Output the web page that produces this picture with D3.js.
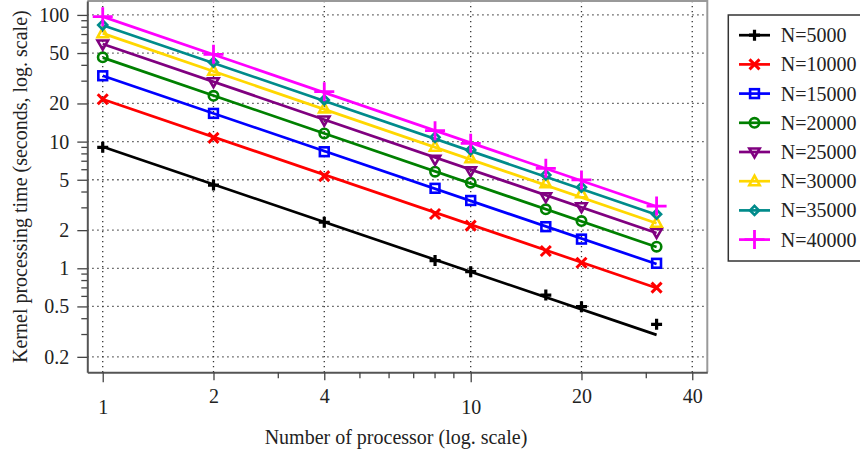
<!DOCTYPE html>
<html>
<head>
<meta charset="utf-8">
<script src="https://cdn.jsdelivr.net/npm/d3@7"></script>
<style>
  body { margin: 0; background: #fff; }
  text { font-family: "Liberation Serif", "DejaVu Serif", serif; fill: #222; }
</style>
</head>
<body>
<div id="chart"></div>
<script>
/*
------------------------------
DATA
------------------------------
*/
let processors = [1, 2, 4, 8, 10, 16, 20, 32];

let seriesNames = ["N=5000", "N=10000", "N=15000", "N=20000", "N=25000", "N=30000", "N=35000", "N=40000"];

// measured kernel times (seconds), one array per N
let t5000  = [9.02, 4.54, 2.31, 1.15, 0.94, 0.615, 0.498, 0.361];
let t10000 = [21.6, 10.7, 5.34, 2.68, 2.17, 1.37, 1.107, 0.703];
let t15000 = [33.1, 16.7, 8.32, 4.28, 3.43, 2.13, 1.70, 1.095];
let t20000 = [46.3, 23.0, 11.6, 5.79, 4.74, 2.92, 2.36, 1.48];
let t25000 = [58.9, 29.7, 14.8, 7.25, 5.89, 3.67, 3.06, 1.92];
let t30000 = [71.6, 36.3, 18.3, 9.12, 7.38, 4.69, 3.91, 2.29];
let t35000 = [83.2, 42.3, 21.3, 10.8, 8.58, 5.45, 4.36, 2.67];
let t40000 = [96.8, 48.9, 24.8, 12.2, 9.70, 6.15, 4.98, 3.10];

// fitted line end points (value at p=1 and at p=32)
let fitStart = [9.1, 21.6, 33.1, 46.0, 59.0, 71.5, 83.0, 97.0];
let fitEnd   = [0.298, 0.70, 1.08, 1.47, 1.90, 2.27, 2.65, 3.07];

let yTicks = [0.2, 0.5, 1, 2, 5, 10, 20, 50, 100];
let yMinor = [0.3, 0.4, 0.6, 0.7, 0.8, 0.9, 3, 4, 6, 7, 8, 9, 30, 40, 60, 70, 80, 90];
let xTicks = [1, 2, 4, 10, 20, 40];
let xMinor = [3, 5, 6, 7, 8, 9, 30];

let colors = ["#000000", "#ff0000", "#0000ff", "#008000", "#800080", "#ffd700", "#008b8b", "#ff00ff"];
let markers = ["plus", "cross", "square", "circle", "tridown", "triup", "diamond", "bigplus"];

let times = [t5000, t10000, t15000, t20000, t25000, t30000, t35000, t40000];

/*
------------------------------
SETUP
------------------------------
*/
let width = 860, height = 459;
let plot = {left: 87.3, right: 707.3, top: 1, bottom: 372.3};
let fontSize = 20;

let svg = d3.select("#chart").append("svg")
    .attr("width", width)
    .attr("height", height);

let xScale = d3.scaleLog().domain([0.908, 43.95]).range([plot.left, plot.right]);
let yScale = d3.scaleLog().domain([0.151, 128.8]).range([plot.bottom, plot.top]);

// grid
let grid = svg.append("g");
grid.selectAll(".hgrid").data(yTicks).enter().append("line")
    .attr("x1", plot.left).attr("x2", plot.right)
    .attr("y1", d => yScale(d)).attr("y2", d => yScale(d))
    .attr("stroke", "#333").attr("stroke-width", 1.3)
    .attr("stroke-dasharray", "1.3,3.7");
grid.selectAll(".vgrid").data(xTicks).enter().append("line")
    .attr("y1", plot.top).attr("y2", plot.bottom)
    .attr("x1", d => xScale(d)).attr("x2", d => xScale(d))
    .attr("stroke", "#333").attr("stroke-width", 1.3)
    .attr("stroke-dasharray", "1.3,3.7");

// frame (top & right lighter)
svg.append("path")
    .attr("d", `M${plot.left},${plot.top}H${plot.right}V${plot.bottom}`)
    .attr("fill", "none").attr("stroke", "#999").attr("stroke-width", 2);

// axes
let xAxis = d3.axisBottom(xScale).tickValues(xTicks).tickSize(8).tickSizeOuter(0).tickFormat(d3.format("d"));
let gx = svg.append("g").attr("transform", `translate(0,${plot.bottom})`).call(xAxis);
gx.select(".domain").attr("stroke", "#555").attr("stroke-width", 2);
gx.selectAll(".tick line").attr("stroke", "#444").attr("stroke-width", 1.3)
    .attr("y2", d => (d === 1 || d === 10) ? 10 : 8);
gx.selectAll(".tick text")
    .attr("font-size", fontSize).attr("font-family", "Liberation Serif")
    .attr("fill", "#222")
    .attr("dy", null)
    .attr("y", d => (d === 1 || d === 10) ? 42 : 31);
gx.selectAll(".minor").data(xMinor).enter().append("line")
    .attr("x1", d => xScale(d)).attr("x2", d => xScale(d))
    .attr("y1", 0).attr("y2", 6)
    .attr("stroke", "#444").attr("stroke-width", 1.3);

let yAxis = d3.axisLeft(yScale).tickValues(yTicks).tickSize(10).tickSizeOuter(0).tickFormat(d3.format("~g"));
let gy = svg.append("g").attr("transform", `translate(${plot.left},0)`).call(yAxis);
gy.select(".domain").attr("stroke", "#555").attr("stroke-width", 2);
gy.selectAll(".tick line").attr("stroke", "#444").attr("stroke-width", 1.3);
gy.selectAll(".tick text")
    .attr("font-size", fontSize).attr("font-family", "Liberation Serif")
    .attr("fill", "#222").attr("x", -18);
gy.selectAll(".minor").data(yMinor).enter().append("line")
    .attr("y1", d => yScale(d)).attr("y2", d => yScale(d))
    .attr("x1", 0).attr("x2", -6)
    .attr("stroke", "#444").attr("stroke-width", 1.3);

// axis titles
svg.append("text")
    .attr("x", 396).attr("y", 444)
    .attr("text-anchor", "middle").attr("font-size", fontSize)
    .text("Number of processor (log. scale)");
svg.append("text")
    .attr("transform", `translate(27,${(plot.top + plot.bottom) / 2}) rotate(-90)`)
    .attr("text-anchor", "middle").attr("font-size", fontSize)
    .text("Kernel processing time (seconds, log. scale)");

/*
------------------------------
METHOD: draw a marker of a given type
------------------------------
*/
function drawMarker(g, type, color, x, y) {
    let m = g.append("g").attr("transform", `translate(${x},${y})`);
    let sw = 2.6;
    if (type === "plus") {
        m.append("path").attr("d", "M-5.5,0H5.5M0,-5.5V5.5")
            .attr("stroke", color).attr("stroke-width", 3.2).attr("fill", "none");
    } else if (type === "bigplus") {
        m.append("path").attr("d", "M-10,0H10M0,-9.5V9.5")
            .attr("stroke", color).attr("stroke-width", 2.8).attr("fill", "none");
    } else if (type === "cross") {
        m.append("path").attr("d", "M-5,-5L5,5M-5,5L5,-5")
            .attr("stroke", color).attr("stroke-width", 3).attr("fill", "none");
    } else if (type === "square") {
        m.append("rect").attr("x", -4.4).attr("y", -4.4).attr("width", 8.8).attr("height", 8.8)
            .attr("stroke", color).attr("stroke-width", sw).attr("fill", "none");
    } else if (type === "circle") {
        m.append("circle").attr("r", 4.7)
            .attr("stroke", color).attr("stroke-width", sw).attr("fill", "none");
    } else if (type === "tridown") {
        m.append("path").attr("d", "M-5.2,-3.5H5.2L0,5.5Z")
            .attr("stroke", color).attr("stroke-width", sw).attr("fill", "none").attr("stroke-linejoin", "miter");
    } else if (type === "triup") {
        m.append("path").attr("d", "M-5.2,4H5.2L0,-5.5Z")
            .attr("stroke", color).attr("stroke-width", sw).attr("fill", "none").attr("stroke-linejoin", "miter");
    } else if (type === "diamond") {
        m.append("path").attr("d", "M0,-4.5L4.5,0L0,4.5L-4.5,0Z")
            .attr("stroke", color).attr("stroke-width", sw).attr("fill", "none");
    }
}

/*
------------------------------
METHOD: series (fit line + measured markers)
------------------------------
*/
let line = d3.line().x(d => xScale(d[0])).y(d => yScale(d[1]));
let lastP = processors[processors.length - 1];

times.forEach(function (vals, i) {
    let g = svg.append("g").attr("class", "series");
    g.append("path")
        .attr("d", line([[processors[0], fitStart[i]], [lastP, fitEnd[i]]]))
        .attr("stroke", colors[i]).attr("stroke-width", 2.7).attr("fill", "none");
    vals.forEach(function (v, j) {
        drawMarker(g, markers[i], colors[i], xScale(processors[j]), yScale(v));
    });
});

/*
------------------------------
METHOD: legend
------------------------------
*/
let legend = svg.append("g");
legend.append("rect")
    .attr("x", 728.3).attr("y", 15).attr("width", 160).attr("height", 246)
    .attr("fill", "#fff").attr("stroke", "#333").attr("stroke-width", 1.5);

seriesNames.forEach(function (name, i) {
    let y = 35.2 + i * 29.2;
    legend.append("line")
        .attr("x1", 739).attr("x2", 770).attr("y1", y).attr("y2", y)
        .attr("stroke", colors[i]).attr("stroke-width", 2.7);
    drawMarker(legend, markers[i], colors[i], 754.5, y);
    legend.append("text")
        .attr("x", 780.7).attr("y", y + 7)
        .attr("font-size", fontSize)
        .text(name);
});
</script>
</body>
</html>
